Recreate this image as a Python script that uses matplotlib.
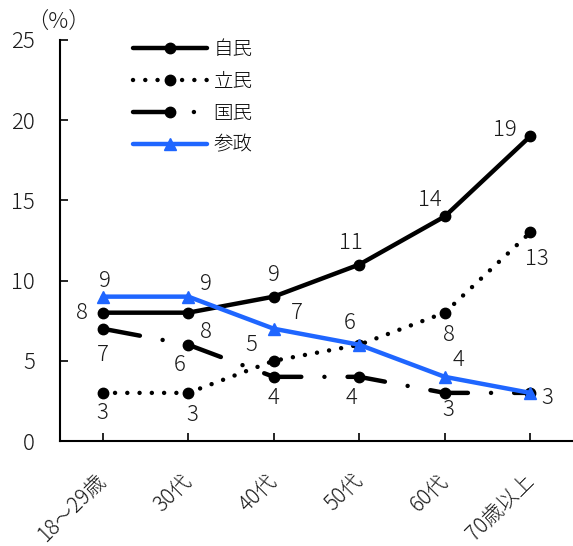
import matplotlib
matplotlib.use("Agg")
import matplotlib.pyplot as plt
import matplotlib.transforms as mtransforms

plt.rcParams['font.family'] = ['Noto Sans CJK JP', 'DejaVu Sans']
plt.rcParams['font.weight'] = 'light'

# data
ages = ["18〜29歳", "30代", "40代", "50代", "60代", "70歳以上"]
jimin = [8, 8, 9, 11, 14, 19]
rikken = [3, 3, 5, 6, 8, 13]
kokumin = [7, 6, 4, 4, 3, 3]
sansei = [9, 9, 7, 6, 4, 3]
yticks = [0, 5, 10, 15, 20, 25]

TXT = '#1a1a1a'
BLUE = '#1f66ff'

fig = plt.figure(figsize=(5.73, 5.46), dpi=100)
ax = fig.add_axes([60 / 573, 105 / 546, 513 / 573, 401 / 546])

x = list(range(len(ages)))
lw = 3.2

l1, = ax.plot(x, jimin, color='black', lw=lw, marker='o', ms=7.5,
              solid_capstyle='round', label='自民')
l2, = ax.plot(x, rikken, color='black', lw=lw, marker='o', ms=7.5,
              label='立民')
l2.set_dashes((0.01, 2.75))
l2.set_dash_capstyle('round')
l3, = ax.plot(x, kokumin, color='black', lw=lw, marker='o', ms=7.5,
              label='国民')
l3.set_dashes((8.5, 5.2, 0.01, 5.2))
l3.set_dash_capstyle('round')
l4, = ax.plot(x, sansei, color=BLUE, lw=lw, marker='^', ms=9,
              solid_capstyle='round', label='参政')

# value labels, offsets in pixels (dx, dy)
offsets = {
    'jimin': [(-21, 0), (18, -19), (0, 22), (-8, 22), (-15, 16), (-25, 6)],
    'rikken': [(0, -20), (4, -22), (-22, 16), None, (4, -22), (7, -27)],
    'kokumin': [(0, -26), (-9, -20), (0, -21), (-8, -21), (4, -17), None],
    'sansei': [(2, 16), (18, 13), (23, 16), (-10, 22), (14, 17), (17, -5)],
}
series = {'jimin': jimin, 'rikken': rikken, 'kokumin': kokumin, 'sansei': sansei}
for key, vals in series.items():
    for i, v in enumerate(vals):
        off = offsets[key][i]
        if off is None:
            continue
        ax.annotate(str(v), (i, v), xytext=off, textcoords='offset pixels',
                    ha='center', va='center', fontsize=16, color=TXT)

ax.set_xlim(-0.5, len(ages) - 0.5)
ax.set_ylim(0, 25)
ax.set_yticks(yticks)
ax.set_xticks(x)
ax.set_xticklabels(ages, rotation=45, ha='right', va='center',
                   rotation_mode='anchor', fontsize=15, color=TXT)
shift = mtransforms.ScaledTranslation(-4 / 100, 0, fig.dpi_scale_trans)
for lab in ax.get_xticklabels():
    lab.set_transform(lab.get_transform() + shift)

ax.tick_params(axis='y', direction='in', length=6, width=1.2, pad=18,
               labelsize=16, labelcolor=TXT)
ax.tick_params(axis='x', direction='in', length=6, width=1.2, pad=26)
for s in ['top', 'right']:
    ax.spines[s].set_visible(False)
for s in ['left', 'bottom']:
    ax.spines[s].set_linewidth(1.5)

fig.text(58 / 573, 1 - 23 / 546, '（%）', ha='center', va='center',
         fontsize=16, color=TXT)

ax.legend(handles=[l1, l2, l3, l4], loc='upper left',
          bbox_to_anchor=(133 / 573, 1 - 39 / 546),
          bbox_transform=fig.transFigure, frameon=False, fontsize=14,
          handlelength=3.8, handletextpad=0.35, labelspacing=0.56,
          borderpad=0, borderaxespad=0, numpoints=1)

fig.savefig('out.png', dpi=100)
